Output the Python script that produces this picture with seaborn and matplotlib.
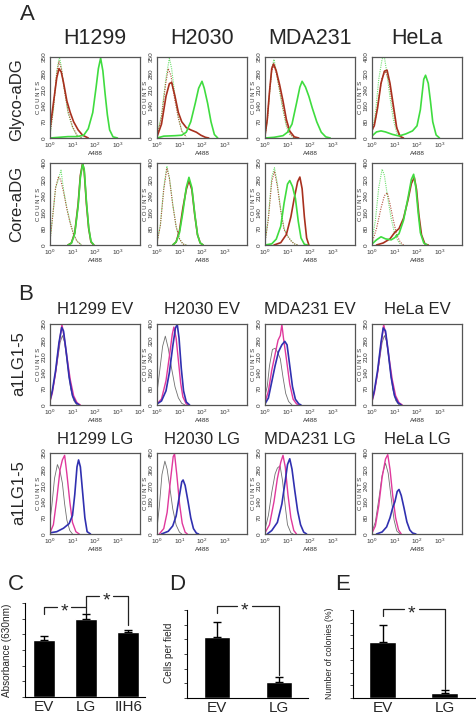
import numpy as np
import matplotlib
matplotlib.use("Agg")
import matplotlib.pyplot as plt
from matplotlib.ticker import NullLocator
import seaborn as sns

# ---------------- DATA (log10 A488 position, counts) ----------------
COLS = ["H1299", "H2030", "MDA231", "HeLa"]
ROW_A_LABELS = ["Glyco-aDG", "Core-aDG"]
ROW_B_LABEL = "a1LG1-5"

GLYCO_H1299 = {
    "green_dot": ([0, .15, .3, .42, .5, .62, .8, 1.0, 1.2, 1.4], [10, 120, 290, 350, 310, 220, 110, 45, 10, 0]),
    "red_dot": ([0, .15, .3, .4, .5, .62, .8, 1.0, 1.2, 1.4], [15, 130, 280, 330, 300, 220, 115, 50, 12, 0]),
    "red": ([0, .15, .3, .4, .5, .6, .75, .9, 1.05, 1.25, 1.45, 1.7], [40, 150, 260, 300, 285, 240, 160, 110, 70, 35, 12, 0]),
    "green": ([0, .4, .8, 1.2, 1.5, 1.7, 1.9, 2.05, 2.15, 2.25, 2.35, 2.45, 2.55, 2.65, 2.8, 3.0], [0, 3, 6, 6, 12, 40, 110, 220, 300, 345, 290, 190, 100, 35, 5, 0]),
}
GLYCO_H2030 = {
    "green_dot": ([0, .2, .4, .55, .65, .8, .95, 1.1, 1.3], [10, 100, 260, 345, 300, 180, 90, 30, 5]),
    "red_dot": ([0, .2, .38, .5, .62, .78, .95, 1.1, 1.3], [10, 90, 230, 300, 270, 170, 85, 30, 5]),
    "red": ([0, .2, .4, .55, .65, .8, .95, 1.1, 1.3, 1.5, 1.75, 1.95, 2.15, 2.3], [5, 60, 180, 235, 240, 180, 110, 70, 45, 35, 25, 12, 3, 0]),
    "green": ([0, .3, .8, 1.1, 1.3, 1.5, 1.7, 1.85, 2.0, 2.1, 2.25, 2.4, 2.55, 2.7], [0, 8, 10, 12, 25, 70, 150, 215, 245, 215, 150, 70, 15, 0]),
}
GLYCO_MDA231 = {
    "green_dot": ([0, .1, .2, .3, .4, .5, .65, .8, .95, 1.1, 1.3], [10, 70, 190, 300, 340, 290, 200, 120, 50, 15, 0]),
    "red_dot": ([0, .1, .2, .3, .4, .5, .65, .8, .95, 1.1, 1.3], [10, 75, 195, 290, 315, 280, 210, 130, 60, 20, 0]),
    "red": ([0, .1, .2, .3, .38, .5, .65, .8, .95, 1.1, 1.3, 1.5], [10, 80, 200, 300, 320, 290, 230, 160, 80, 30, 5, 0]),
    "green": ([0, .4, .8, 1.0, 1.2, 1.4, 1.55, 1.65, 1.8, 1.95, 2.1, 2.3, 2.5, 2.7, 2.9], [0, 3, 10, 25, 60, 150, 220, 245, 220, 180, 130, 70, 25, 5, 0]),
}
GLYCO_HELA = {
    "green_dot": ([0, .15, .3, .45, .55, .65, .8, .95, 1.1, 1.3], [20, 120, 290, 390, 400, 330, 200, 90, 25, 0]),
    "red_dot": ([0, .15, .3, .45, .6, .75, .9, 1.05, 1.2, 1.35], [30, 90, 200, 300, 330, 280, 170, 70, 15, 0]),
    "red": ([0, .1, .25, .4, .55, .67, .8, .95, 1.1, 1.25, 1.4], [40, 60, 150, 270, 330, 335, 270, 160, 50, 8, 0]),
    "green": ([0, .2, .4, .6, .9, 1.2, 1.5, 1.8, 2.0, 2.15, 2.3, 2.38, 2.5, 2.6, 2.7, 2.85, 3.0], [10, 30, 35, 30, 18, 10, 20, 35, 60, 140, 290, 310, 270, 180, 80, 15, 0]),
}
CORE_H1299 = {
    "green_dot": ([0, .1, .25, .37, .49, .6, .75, .9, 1.05, 1.2, 1.4], [20, 120, 280, 320, 365, 270, 180, 110, 55, 20, 0]),
    "red_dot": ([0, .1, .25, .37, .47, .6, .75, .9, 1.05, 1.2, 1.4], [20, 120, 280, 330, 320, 260, 175, 105, 50, 18, 0]),
    "red": ([.8, .95, 1.1, 1.25, 1.35, 1.45, 1.52, 1.62, 1.72, 1.82, 1.95], [0, 10, 60, 200, 340, 400, 360, 200, 80, 15, 0]),
    "green": ([.8, .95, 1.1, 1.25, 1.35, 1.45, 1.52, 1.62, 1.72, 1.82, 1.95], [0, 8, 55, 190, 330, 395, 370, 210, 85, 18, 0]),
}
CORE_H2030 = {
    "green_dot": ([0, .15, .3, .44, .55, .7, .85, 1.0, 1.15, 1.3], [10, 100, 280, 385, 330, 200, 90, 30, 5, 0]),
    "red_dot": ([0, .15, .3, .44, .55, .7, .85, 1.0, 1.15, 1.3], [10, 95, 270, 375, 325, 195, 90, 30, 5, 0]),
    "red": ([.7, .85, 1.0, 1.15, 1.3, 1.42, 1.55, 1.68, 1.8, 1.92, 2.05], [0, 15, 70, 180, 270, 315, 270, 145, 50, 10, 0]),
    "green": ([.7, .85, 1.0, 1.15, 1.3, 1.42, 1.55, 1.68, 1.8, 1.92, 2.05], [0, 15, 60, 160, 280, 330, 280, 150, 50, 10, 0]),
}
CORE_MDA231 = {
    "green_dot": ([0, .15, .3, .42, .55, .7, .85, 1.0, 1.15, 1.3, 1.45], [10, 120, 290, 330, 260, 150, 70, 40, 20, 5, 0]),
    "red_dot": ([0, .15, .3, .42, .55, .7, .85, 1.0, 1.15, 1.3, 1.45], [10, 110, 270, 315, 250, 145, 65, 38, 18, 5, 0]),
    "red": ([.4, .7, .95, 1.15, 1.3, 1.45, 1.55, 1.65, 1.75, 1.85, 1.95], [0, 10, 45, 120, 200, 270, 290, 240, 120, 30, 0]),
    "green": ([0, .3, .5, .7, .85, 1.0, 1.1, 1.22, 1.35, 1.48, 1.6, 1.75, 1.9], [0, 5, 25, 80, 180, 260, 275, 250, 200, 100, 30, 3, 0]),
}
CORE_HELA = {
    "green_dot": ([0, .15, .3, .45, .55, .7, .85, 1.0, 1.15, 1.3], [20, 120, 280, 370, 340, 230, 130, 60, 20, 0]),
    "red_dot": ([0, .2, .4, .55, .68, .8, .95, 1.1, 1.25, 1.4], [10, 80, 180, 240, 255, 200, 120, 50, 15, 0]),
    "red": ([.2, .5, .8, 1.0, 1.2, 1.4, 1.6, 1.75, 1.88, 1.98, 2.08, 2.2, 2.35, 2.5], [0, 10, 30, 60, 80, 130, 220, 300, 330, 270, 150, 50, 5, 0]),
    "green": ([0, .2, .4, .6, .85, 1.0, 1.2, 1.4, 1.6, 1.75, 1.85, 1.95, 2.05, 2.15, 2.3, 2.45], [5, 25, 40, 30, 25, 35, 55, 120, 230, 320, 345, 280, 160, 60, 10, 0]),
}
EV_H1299 = {
    "gray": ([0, .15, .3, .45, .55, .65, .78, .92, 1.05, 1.2], [20, 80, 170, 270, 300, 270, 170, 70, 20, 0]),
    "mag": ([0, .1, .25, .4, .53, .62, .75, .9, 1.05, 1.2, 1.35], [15, 50, 140, 260, 348, 300, 210, 110, 40, 10, 0]),
    "blue": ([0, .1, .25, .4, .52, .6, .72, .85, 1.0, 1.15, 1.3], [20, 60, 150, 270, 335, 320, 230, 120, 40, 10, 0]),
}
EV_H2030 = {
    "gray": ([0, .1, .25, .37, .5, .65, .8, .95, 1.1, 1.25], [60, 150, 290, 340, 280, 180, 90, 35, 8, 0]),
    "mag": ([0, .2, .4, .55, .68, .75, .85, .95, 1.05, 1.15, 1.3, 1.4], [5, 30, 120, 240, 350, 385, 330, 220, 110, 40, 5, 0]),
    "blue": ([0, .2, .4, .55, .7, .82, .9, .98, 1.08, 1.18, 1.3, 1.45], [5, 20, 70, 160, 290, 380, 398, 330, 180, 70, 15, 0]),
}
EV_MDA231 = {
    "gray": ([0, .1, .2, .33, .45, .55, .68, .8, .92, 1.05, 1.2], [40, 80, 170, 240, 245, 230, 200, 120, 50, 15, 0]),
    "mag": ([0, .15, .3, .45, .58, .68, .75, .82, .95, 1.1, 1.25, 1.4, 1.5], [10, 60, 150, 220, 280, 300, 348, 290, 200, 90, 25, 5, 0]),
    "blue": ([0, .15, .3, .45, .6, .75, .88, .98, 1.1, 1.22, 1.35, 1.5, 1.6], [5, 30, 100, 170, 230, 260, 275, 260, 170, 80, 25, 5, 0]),
}
EV_HELA = {
    "gray": ([0, .15, .3, .45, .55, .65, .78, .92, 1.05, 1.2], [20, 80, 170, 270, 300, 275, 170, 70, 20, 0]),
    "mag": ([0, .1, .25, .4, .52, .62, .75, .9, 1.05, 1.2, 1.35], [15, 50, 140, 260, 348, 300, 210, 110, 40, 10, 0]),
    "blue": ([0, .1, .25, .4, .5, .6, .72, .85, 1.0, 1.15, 1.3], [20, 60, 150, 270, 333, 320, 230, 120, 40, 10, 0]),
}
LG_H1299 = {
    "gray": ([0, .08, .2, .33, .45, .55, .65, .75, .88, 1.0], [60, 120, 240, 300, 270, 220, 130, 60, 15, 0]),
    "mag": ([0, .15, .3, .45, .55, .65, .75, .88, 1.0, 1.15, 1.3], [5, 40, 150, 280, 320, 340, 260, 140, 50, 10, 0]),
    "blue": ([0, .3, .6, .85, 1.0, 1.1, 1.2, 1.27, 1.35, 1.45, 1.55, 1.65, 1.8], [5, 10, 25, 45, 80, 170, 290, 320, 290, 180, 70, 10, 0]),
}
LG_H2030 = {
    "gray": ([0, .1, .22, .35, .45, .58, .7, .85, 1.0, 1.1], [30, 150, 330, 405, 360, 250, 140, 50, 10, 0]),
    "mag": ([.1, .3, .45, .6, .72, .78, .88, 1.0, 1.12, 1.25, 1.35], [0, 30, 120, 300, 430, 445, 330, 170, 60, 10, 0]),
    "blue": ([.2, .5, .7, .85, .98, 1.1, 1.16, 1.25, 1.38, 1.5, 1.62, 1.75, 1.85], [0, 15, 45, 100, 200, 290, 300, 270, 180, 90, 30, 5, 0]),
}
LG_MDA231 = {
    "gray": ([0, .15, .3, .45, .55, .67, .78, .9, 1.0, 1.15, 1.25], [20, 80, 180, 260, 285, 295, 230, 120, 40, 5, 0]),
    "mag": ([0, .2, .4, .55, .7, .8, .9, 1.02, 1.15, 1.28, 1.4], [5, 40, 140, 240, 310, 340, 290, 170, 70, 15, 0]),
    "blue": ([.1, .3, .55, .75, .9, 1.0, 1.1, 1.2, 1.32, 1.45, 1.58, 1.72, 1.85], [0, 15, 50, 130, 230, 300, 325, 280, 190, 100, 40, 8, 0]),
}
LG_HELA = {
    "gray": ([0, .15, .3, .45, .6, .72, .85, .98, 1.1, 1.25], [10, 60, 170, 290, 350, 300, 180, 70, 15, 0]),
    "mag": ([0, .15, .3, .45, .6, .7, .8, .92, 1.05, 1.18, 1.3], [5, 40, 140, 280, 370, 392, 320, 190, 80, 20, 0]),
    "blue": ([.2, .45, .65, .8, .92, 1.02, 1.12, 1.2, 1.3, 1.42, 1.55, 1.68, 1.8, 1.95], [0, 10, 35, 80, 130, 160, 210, 220, 190, 130, 60, 20, 5, 0]),
}

ROW_A1 = [GLYCO_H1299, GLYCO_H2030, GLYCO_MDA231, GLYCO_HELA]
ROW_A2 = [CORE_H1299, CORE_H2030, CORE_MDA231, CORE_HELA]
ROW_B1 = [EV_H1299, EV_H2030, EV_MDA231, EV_HELA]
ROW_B2 = [LG_H1299, LG_H2030, LG_MDA231, LG_HELA]
YMAX_A1 = [350, 350, 350, 400]
YMAX_A2 = [400, 400, 350, 400]
YMAX_B1 = [350, 400, 350, 350]
YMAX_B2 = [350, 450, 350, 400]

C_CATS = ["EV", "LG", "IIH6"]
C_VALS = [3.62, 4.96, 4.15]
C_ERR = [0.25, 0.36, 0.10]
D_CATS = ["EV", "LG"]
D_VALS = [4.15, 1.11]
D_ERR = [1.05, 0.34]
E_CATS = ["EV", "LG"]
E_VALS = [4.49, 0.40]
E_ERR = [1.32, 0.26]

# ---------------- STYLE ----------------
sns.set_style("white")
plt.rcParams["font.family"] = ["Liberation Sans", "DejaVu Sans"]
plt.rcParams["mathtext.fontset"] = "custom"
plt.rcParams["mathtext.rm"] = "Liberation Sans"
plt.rcParams["mathtext.it"] = "Liberation Sans"

STYLES = {
    "green_dot": dict(color="#6ee06e", lw=0.8, ls=(0, (1, 1))),
    "red_dot": dict(color="#b0503a", lw=0.8, ls=(0, (1, 1.2))),
    "red": dict(color="#a8301e", lw=1.2, ls="-"),
    "green": dict(color="#3fdc3f", lw=1.2, ls="-"),
    "gray": dict(color="#707070", lw=0.6, ls="-"),
    "mag": dict(color="#e0389c", lw=1.0, ls="-"),
    "blue": dict(color="#3030b0", lw=1.2, ls="-"),
}
ORDER = ["green_dot", "red_dot", "red", "green", "gray", "mag", "blue"]

W, H = 477, 718
fig = plt.figure(figsize=(W / 100, H / 100), dpi=100)


def box(x0, y0, x1, y1):
    return fig.add_axes([x0 / W, 1 - y1 / H, (x1 - x0) / W, (y1 - y0) / H])


def T(x, y, s, **kw):
    kw.setdefault("ha", "center")
    kw.setdefault("va", "center")
    fig.text(x / W, 1 - y / H, s, **kw)


def hist_panel(ax, curves, ymax, show_1e4=False):
    for key in ORDER:
        if key in curves:
            lx, cy = curves[key]
            st = STYLES[key]
            sns.lineplot(x=np.power(10.0, np.array(lx)), y=cy, ax=ax, sort=False,
                         estimator=None, color=st["color"], linewidth=st["lw"],
                         linestyle=st["ls"])
    ax.set_xscale("log")
    ax.set_xlim(1, 1e4)
    ax.set_ylim(0, ymax)
    ax.xaxis.set_minor_locator(NullLocator())
    xt = [1, 10, 100, 1000] + ([10000] if show_1e4 else [])
    ax.set_xticks(xt)
    ax.set_xticklabels([r"$10^{%d}$" % i for i in range(len(xt))])
    step = ymax // 5
    yt = list(range(0, ymax + 1, step))
    ax.set_yticks(yt)
    ax.set_yticklabels([str(v) for v in yt], rotation=90, va="center")
    ax.tick_params(length=1.2, width=0.4, pad=1, labelsize=4.6, colors="#333333")
    ax.set_ylabel("C O U N T S", fontsize=4.3, labelpad=1, color="#333333")
    ax.set_xlabel("A488", fontsize=4.6, labelpad=0.5, color="#333333")
    for sp in ax.spines.values():
        sp.set_color("#555555")
        sp.set_linewidth(0.9)


COL_X = [50, 157, 265, 372]
PW = 90
ROWS = [(57, 138), (163, 245), (324, 405), (453, 534)]
for r, (rowdata, ymaxes) in enumerate([(ROW_A1, YMAX_A1), (ROW_A2, YMAX_A2),
                                       (ROW_B1, YMAX_B1), (ROW_B2, YMAX_B2)]):
    y0, y1 = ROWS[r]
    for c in range(4):
        ax = box(COL_X[c], y0, COL_X[c] + PW, y1)
        hist_panel(ax, rowdata[c], ymaxes[c], show_1e4=(r == 2 and c == 0))

# titles
for c, name in enumerate(COLS):
    cx = COL_X[c] + PW / 2
    T(cx, 39, name, fontsize=15.5)
    T(cx, 310, name + " EV", fontsize=12)
    T(cx, 439, name + " LG", fontsize=12)
T(17, 100, ROW_A_LABELS[0], fontsize=12, rotation=90)
T(17, 204, ROW_A_LABELS[1], fontsize=12, rotation=90)
T(19, 364, ROW_B_LABEL, fontsize=12, rotation=90)
T(19, 493, ROW_B_LABEL, fontsize=12, rotation=90)
T(27, 15, "A", fontsize=16)
T(26, 295, "B", fontsize=16)
T(16, 585, "C", fontsize=16)
T(177, 585, "D", fontsize=16)
T(343, 585, "E", fontsize=16)


def bar_panel(ax, cats, vals, errs, width, xlim, ymax):
    sns.barplot(x=cats, y=vals, color="black", saturation=1, width=width,
                errorbar=None, ax=ax)
    ax.errorbar(range(len(vals)), vals, yerr=[np.zeros(len(vals)), errs], fmt="none",
                ecolor="black", elinewidth=1, capsize=3, capthick=1)
    ax.set_xlim(*xlim)
    ax.set_ylim(0, ymax)
    ax.set_yticks(range(0, ymax + 1))
    ax.set_yticklabels([])
    ax.tick_params(axis="y", length=2, width=0.6, direction="out", left=True)
    ax.tick_params(axis="x", length=0, labelsize=11, pad=2)
    ax.set_xlabel("")
    ax.set_ylabel("")
    for s in ["top", "right"]:
        ax.spines[s].set_visible(False)
    for s in ["left", "bottom"]:
        ax.spines[s].set_color("black")
        ax.spines[s].set_linewidth(0.8)


def bracket(ax, x0, x1, y, yl, yr, xs, gap):
    kw = dict(color="#222222", lw=0.9, clip_on=False)
    ax.plot([x0, x0, xs - gap], [yl, y, y], **kw)
    ax.plot([xs + gap, x1, x1], [y, y, yr], **kw)
    ax.annotate("*", (xs, y), xytext=(0, -3.5), textcoords="offset points",
                ha="center", va="center", fontsize=14, annotation_clip=False)


axC = box(25, 603, 145, 697)
bar_panel(axC, C_CATS, C_VALS, C_ERR, 0.52, (-0.45, 2.4), 6)
bracket(axC, 0, 1, 5.76, 5.3, 5.36, 0.48, 0.17)
bracket(axC, 1, 2, 6.45, 5.76, 4.6, 1.48, 0.17)
T(7, 650, "Absorbance (630nm)", fontsize=7.2, rotation=90)

axD = box(187, 610, 308, 698)
bar_panel(axD, D_CATS, D_VALS, D_ERR, 0.42, (-0.48, 1.47), 6)
bracket(axD, 0, 1, 6.27, 5.8, 1.6, 0.45, 0.12)
T(169, 653, "Cells per field", fontsize=7.2, rotation=90)

axE = box(353, 610, 477, 698)
bar_panel(axE, E_CATS, E_VALS, E_ERR, 0.43, (-0.48, 1.52), 7)
bracket(axE, 0, 1, 7.05, 6.52, 0.72, 0.47, 0.12)
T(330, 653, "Number of colonies (%)", fontsize=6.3, rotation=90)

fig.savefig("out.png", dpi=100)
